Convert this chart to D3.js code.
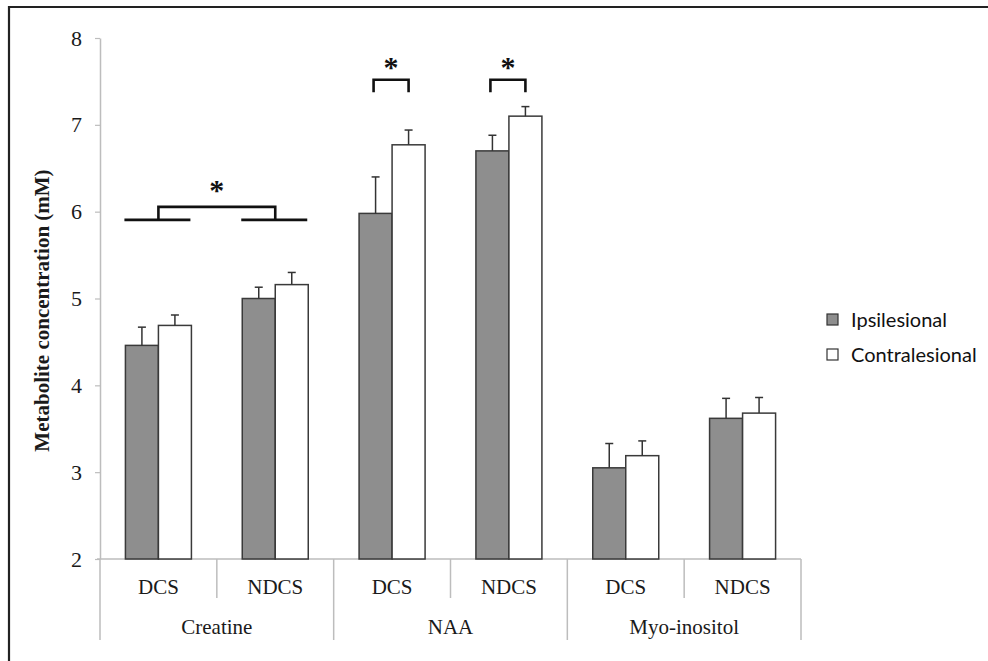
<!DOCTYPE html>
<html>
<head>
<meta charset="utf-8">
<script src="https://cdn.jsdelivr.net/npm/d3@7"></script>
<style>
  body { margin: 0; background: #fff; }
  svg { display: block; }
</style>
</head>
<body>
<svg id="chart" width="988" height="661"></svg>
<script>
const groups = ["Creatine", "NAA", "Myo-inositol"];
const subs = ["DCS", "NDCS"];
const series = ["Ipsilesional", "Contralesional"];
const yTicks = [2, 3, 4, 5, 6, 7, 8];

// order: Creatine DCS, Creatine NDCS, NAA DCS, NAA NDCS, Myo DCS, Myo NDCS
const ipsiMean = [4.46, 5.00, 5.98, 6.70, 3.05, 3.62];
const ipsiErr = [0.21, 0.13, 0.42, 0.18, 0.28, 0.23];
const contraMean = [4.69, 5.16, 6.77, 7.10, 3.19, 3.68];
const contraErr = [0.12, 0.14, 0.17, 0.11, 0.17, 0.18];

// significance markers (values in mM)
const pairBrackets = [
  { cat: 2, top: 7.52, leg: 7.375, star: 7.69 },
  { cat: 3, top: 7.52, leg: 7.375, star: 7.69 }
];
const groupBracket = { cats: [0, 1], base: 5.905, top: 6.055, star: 6.27 };

const cats = [];
groups.forEach(g => subs.forEach(s => cats.push(g + "|" + s)));

const serif = "'Liberation Serif', 'Times New Roman', serif";
const svg = d3.select("#chart");

// frame (only top/left edges visible)
svg.append("line").attr("x1", 9).attr("x2", 988).attr("y1", 7).attr("y2", 7)
  .attr("stroke", "#222").attr("stroke-width", 2.2);
svg.append("line").attr("x1", 9).attr("x2", 9).attr("y1", 6).attr("y2", 661)
  .attr("stroke", "#222").attr("stroke-width", 2.2);

const x0 = d3.scaleBand().domain(cats).range([100, 801]);
const bw = x0.bandwidth();
const x1 = d3.scaleBand().domain(series).range([bw / 2 - 33, bw / 2 + 33]);
const y = d3.scaleLinear().domain([2, 8]).range([559, 38]);

// y axis
const yAxis = svg.append("g").attr("transform", "translate(100,0)")
  .call(d3.axisLeft(y).tickValues(yTicks).tickFormat(d3.format("d"))
    .tickSize(5).tickPadding(13).tickSizeOuter(0));
yAxis.select(".domain").attr("stroke", "#bdbdbd").attr("stroke-width", 1.5);
yAxis.selectAll(".tick line").attr("stroke", "#bdbdbd").attr("stroke-width", 1.2);
yAxis.selectAll(".tick text")
  .attr("font-family", serif).attr("font-size", 22).attr("fill", "#1a1a1a");

svg.append("text")
  .attr("transform", `translate(49,${(y(2) + y(8)) / 2 + 12}) rotate(-90)`)
  .attr("text-anchor", "middle")
  .attr("font-family", serif)
  .attr("font-weight", "bold").attr("font-size", 21).attr("fill", "#1a1a1a")
  .text("Metabolite concentration (mM)");

// x axis baseline and category dividers
svg.append("line").attr("x1", 97).attr("x2", 801).attr("y1", y(2)).attr("y2", y(2))
  .attr("stroke", "#bdbdbd").attr("stroke-width", 1.5);
cats.forEach((c, i) => {
  const xl = x0(c);
  const long = i % 2 === 0;
  svg.append("line").attr("x1", xl).attr("x2", xl)
    .attr("y1", y(2)).attr("y2", long ? 640 : 598)
    .attr("stroke", "#bdbdbd").attr("stroke-width", 1.5);
});
svg.append("line").attr("x1", 801).attr("x2", 801).attr("y1", y(2)).attr("y2", 640)
  .attr("stroke", "#bdbdbd").attr("stroke-width", 1.5);

svg.selectAll(".sublabel").data(cats).join("text")
  .attr("x", d => x0(d) + bw / 2).attr("y", 594)
  .attr("text-anchor", "middle")
  .attr("font-family", serif).attr("font-size", 21).attr("fill", "#1a1a1a")
  .text(d => d.split("|")[1]);

svg.selectAll(".grouplabel").data(groups).join("text")
  .attr("x", g => x0(g + "|DCS") + bw)
  .attr("y", 634)
  .attr("text-anchor", "middle")
  .attr("font-family", serif).attr("font-size", 21).attr("fill", "#1a1a1a")
  .text(g => g);

// bars
const rows = [];
cats.forEach((c, i) => {
  rows.push({ cat: c, s: series[0], v: ipsiMean[i], e: ipsiErr[i] });
  rows.push({ cat: c, s: series[1], v: contraMean[i], e: contraErr[i] });
});
const fill = { Ipsilesional: "#8e8e8e", Contralesional: "#ffffff" };

svg.selectAll(".bar").data(rows).join("rect")
  .attr("x", d => x0(d.cat) + x1(d.s))
  .attr("y", d => y(d.v))
  .attr("width", x1.bandwidth())
  .attr("height", d => y(2) - y(d.v))
  .attr("fill", d => fill[d.s])
  .attr("stroke", "#3a3a3a").attr("stroke-width", 1.5);

// error bars
const eb = svg.append("g").attr("stroke", "#333").attr("stroke-width", 1.5);
rows.forEach(d => {
  const cx = x0(d.cat) + x1(d.s) + x1.bandwidth() / 2;
  eb.append("line").attr("x1", cx).attr("x2", cx).attr("y1", y(d.v)).attr("y2", y(d.v + d.e));
  eb.append("line").attr("x1", cx - 4).attr("x2", cx + 4).attr("y1", y(d.v + d.e)).attr("y2", y(d.v + d.e));
});

// significance brackets
const sig = svg.append("g").attr("fill", "none").attr("stroke", "#111").attr("stroke-width", 2.6);
const starText = (cx, v) => svg.append("text").attr("x", cx).attr("y", y(v) + 12)
  .attr("text-anchor", "middle")
  .attr("font-family", serif)
  .attr("font-weight", "bold").attr("font-size", 30).attr("fill", "#111").text("*");

pairBrackets.forEach(b => {
  const c = cats[b.cat];
  const xa = x0(c) + x1(series[0]) + x1.bandwidth() / 2 - 2;
  const xb = x0(c) + x1(series[1]) + x1.bandwidth() / 2;
  sig.append("path").attr("d", `M${xa},${y(b.leg)}V${y(b.top)}H${xb}V${y(b.leg)}`);
  starText((xa + xb) / 2, b.star);
});

{
  const gb = groupBracket;
  const centers = gb.cats.map(i => x0(cats[i]) + bw / 2);
  gb.cats.forEach(i => {
    const c = cats[i];
    sig.append("line")
      .attr("x1", x0(c) + x1(series[0]) - 1).attr("x2", x0(c) + x1(series[1]) + x1.bandwidth() - 1)
      .attr("y1", y(gb.base)).attr("y2", y(gb.base));
  });
  sig.append("path").attr("d",
    `M${centers[0]},${y(gb.base)}V${y(gb.top)}H${centers[1]}V${y(gb.base)}`);
  starText((centers[0] + centers[1]) / 2, gb.star);
}

// legend
const legend = svg.append("g").attr("transform", "translate(827,314)");
series.forEach((s, i) => {
  const row = legend.append("g").attr("transform", `translate(0,${i * 35})`);
  row.append("rect").attr("width", 11).attr("height", 11)
    .attr("fill", fill[s]).attr("stroke", "#333").attr("stroke-width", 1.2);
  row.append("text").attr("x", 24).attr("y", 13)
    .attr("font-family", "Lato, 'Open Sans', sans-serif")
    .attr("font-size", 20).attr("fill", "#111").text(s);
});
</script>
</body>
</html>
